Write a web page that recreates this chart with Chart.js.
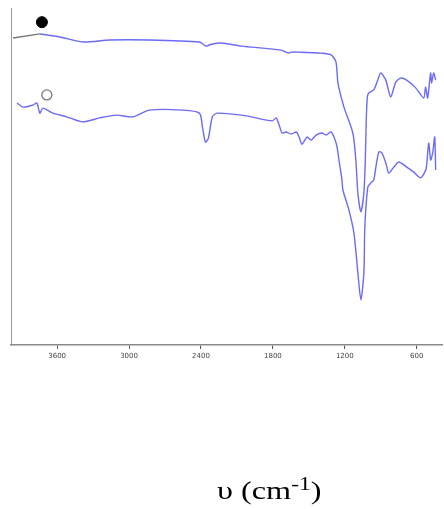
<!DOCTYPE html>
<html>
<head>
<meta charset="utf-8">
<script src="https://cdn.jsdelivr.net/npm/chart.js@4"></script>
<style>
  html, body { margin: 0; padding: 0; background: #fff; overflow: hidden; }
  #wrap { position: relative; width: 444px; height: 509px; overflow: hidden; }
  #title {
    position: absolute; left: 217px; top: 478px;
    font-family: "Liberation Serif", "Times New Roman", serif;
    font-size: 26px; line-height: 1; color: #000; white-space: nowrap;
    transform: scaleX(1.24); transform-origin: left top;
  }
  #title sup { font-size: 19px; vertical-align: 9px; line-height: 0; }
</style>
</head>
<body>
<div id="wrap">
  <!-- 5px wider than the page: chart.js keeps a small gap on the right, this pushes the axis to the edge -->
  <canvas id="irChart" width="449" height="509"></canvas>
  <div id="title">υ (cm<sup>-1</sup>)</div>
</div>
<script>
// wavenumbers (cm-1) and relative transmittance
const topWave = [3968, 3744, 3578, 3386, 3162, 2829, 2413, 2372, 2355, 2305, 2230, 2064, 1731, 1673, 1648, 1590,
  1399, 1315, 1274, 1257, 1207, 1133, 1108, 1091, 1066, 1041, 1029, 1021, 1012, 1000, 958, 925, 900, 858, 817,
  775, 734, 684, 609, 542, 526, 509, 484, 476, 459, 442];
const topT = [91.1, 92.3, 91.4, 89.9, 90.5, 90.5, 89.9, 89.0, 88.7, 89.3, 89.6, 88.7, 87.5, 86.6, 86.9, 86.9,
  86.6, 86.1, 84.0, 77.7, 70.6, 62.9, 54.9, 45.1, 39.5, 45.1, 54.9, 66.8, 73.6, 74.8, 75.7, 78.6, 80.7, 78.6, 73.6,
  78.0, 79.2, 78.6, 76.3, 73.3, 76.6, 73.3, 80.7, 77.7, 80.7, 78.6];

const bottomWave = [3935, 3885, 3802, 3769, 3744, 3719, 3636, 3519, 3386, 3245, 3103, 2970, 2829, 2555, 2413, 2388,
  2363, 2338, 2305, 2263, 2022, 1806, 1773, 1748, 1723, 1690, 1648, 1606, 1581, 1557, 1515, 1482, 1440, 1390, 1357,
  1315, 1290, 1265, 1249, 1224, 1216, 1166, 1124, 1091, 1066, 1041, 1033, 1008, 983, 958, 941, 916, 891, 858, 833,
  791, 750, 683, 625, 567, 525, 517, 500, 484, 467, 450, 442];
const bottomT = [71.8, 70.6, 71.2, 71.8, 68.8, 70.3, 68.8, 67.7, 66.2, 67.4, 68.2, 67.7, 69.7, 69.7, 68.8, 64.7,
  60.2, 61.4, 67.7, 68.8, 68.0, 66.5, 67.4, 65.3, 62.9, 63.2, 62.6, 63.2, 61.7, 59.6, 61.7, 60.8, 62.3, 62.9, 62.3,
  63.2, 61.7, 58.8, 54.9, 49.0, 46.0, 40.1, 33.2, 21.4, 13.4, 21.4, 35.0, 46.9, 48.1, 49.0, 52.8, 57.3, 57.0, 54.0,
  51.0, 52.8, 54.3, 52.8, 51.3, 49.6, 51.9, 53.4, 59.9, 54.9, 57.0, 61.7, 51.9];

const tickValues = [3600, 3000, 2400, 1800, 1200, 600];

// sample markers: filled = top trace, open = bottom trace
const markerWave = [3727, 3686];
const markerT = [95.8, 74.2];

const toXY = (xs, ys) => xs.map((x, i) => ({ x: x, y: ys[i] }));
const topPts = toXY(topWave, topT);

new Chart(document.getElementById("irChart"), {
  type: "line",
  data: {
    datasets: [
      {
        data: topPts.slice(0, 2),
        borderColor: "#777777",
        borderWidth: 1.3,
        pointRadius: 0,
        tension: 0
      },
      {
        data: topPts.slice(1),
        borderColor: "#6b6bf7",
        borderWidth: 1.4,
        pointRadius: 0,
        tension: 0.25
      },
      {
        data: toXY(bottomWave, bottomT),
        borderColor: "#6b6bf7",
        borderWidth: 1.4,
        pointRadius: 0,
        tension: 0.25
      },
      {
        type: "scatter",
        data: [{ x: markerWave[0], y: markerT[0] }],
        pointRadius: 5.5,
        pointBackgroundColor: "#000",
        pointBorderColor: "#000",
        showLine: false
      },
      {
        type: "scatter",
        data: [{ x: markerWave[1], y: markerT[1] }],
        pointRadius: 5,
        pointBackgroundColor: "#fff",
        pointBorderColor: "#777",
        pointBorderWidth: 1.3,
        showLine: false
      }
    ]
  },
  options: {
    responsive: false,
    animation: false,
    layout: { padding: { top: 8, left: 0, right: 0, bottom: 144 } },
    plugins: { legend: { display: false }, tooltip: { enabled: false } },
    scales: {
      x: {
        type: "linear",
        reverse: true,
        min: 385,
        max: 3985,
        afterBuildTicks: (scale) => { scale.ticks = tickValues.map(v => ({ value: v })); },
        afterFit: (scale) => {
          scale.height = 20;
          scale.paddingLeft = 0;
          scale.paddingRight = 0;
        },
        grid: { drawOnChartArea: false, tickLength: 4, color: "#555", lineWidth: 1 },
        border: { color: "#8a8a8a", width: 1.6 },
        ticks: {
          font: { family: "DejaVu Sans", size: 7 },
          color: "#444",
          padding: 3,
          maxRotation: 0,
          autoSkip: false,
          callback: (v) => String(v)
        }
      },
      y: {
        min: 0,
        max: 100,
        afterFit: (scale) => { scale.width = 11; },
        grid: { display: false },
        border: { color: "#999", width: 1 },
        ticks: { display: false }
      }
    }
  }
});
</script>
</body>
</html>
